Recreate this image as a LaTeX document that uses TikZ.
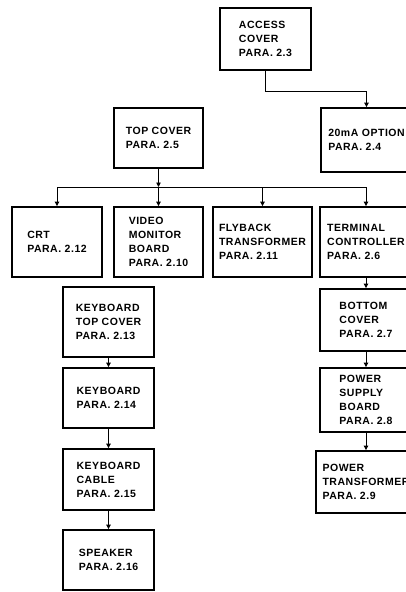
\documentclass[tikz,border=0pt]{standalone}
\usepackage{fontspec}
\setmainfont{Liberation Sans}[LetterSpace=5]
\usepackage{tikz}
\usetikzlibrary{arrows.meta, positioning}

\begin{document}
\begin{tikzpicture}[x=1pt,y=-1pt]
\tikzset{
  bx/.style={rectangle,draw=black,line width=1.8pt,align=left,inner sep=0pt,font=\fontsize{10.5}{14}\selectfont\bfseries},
  ar/.style={-{Triangle[length=4.5pt,width=4.5pt]},line width=0.8pt},
  ln/.style={line width=0.8pt}
}
\path[use as bounding box,clip] (0,0) rectangle (406,592);
\node[bx,minimum width=91pt,minimum height=62pt] (access) at (265.5,39) {ACCESS\\COVER\\PARA. 2.3};
\node[bx,minimum width=91pt,minimum height=64pt] (opt20) at (366.5,140) {20mA OPTION\\PARA. 2.4};
\node[bx,minimum width=89pt,minimum height=60pt] (topcov) at (158.5,138) {TOP COVER\\PARA. 2.5};
\node[bx,minimum width=90pt,minimum height=70pt] (crt) at (57,242) {CRT\\PARA. 2.12};
\node[bx,minimum width=89pt,minimum height=70pt] (vidmon) at (158.5,242) {VIDEO\\MONITOR\\BOARD\\PARA. 2.10};
\node[bx,minimum width=99pt,minimum height=70pt] (flyback) at (262.5,242) {FLYBACK\\TRANSFORMER\\PARA. 2.11};
\node[bx,minimum width=92pt,minimum height=70pt] (termctl) at (366,242) {TERMINAL\\CONTROLLER\\PARA. 2.6};
\node[bx,minimum width=92pt,minimum height=62pt] (botcov) at (366,320) {BOTTOM\\COVER\\PARA. 2.7};
\node[bx,minimum width=92pt,minimum height=64pt] (psboard) at (366,400) {POWER\\SUPPLY\\BOARD\\PARA. 2.8};
\node[bx,minimum width=100pt,minimum height=62pt] (pwrxfmr) at (366,482) {POWER\\TRANSFORMER\\PARA. 2.9};
\node[bx,minimum width=91pt,minimum height=70pt] (kbtop) at (108.5,322) {KEYBOARD\\TOP COVER\\PARA. 2.13};
\node[bx,minimum width=91pt,minimum height=60pt] (kbd) at (108.5,398) {KEYBOARD\\PARA. 2.14};
\node[bx,minimum width=91pt,minimum height=61pt] (kbcable) at (108.5,479.5) {KEYBOARD\\CABLE\\PARA. 2.15};
\node[bx,minimum width=91pt,minimum height=60pt] (speaker) at (108.5,560) {SPEAKER\\PARA. 2.16};
\coordinate (bus) at (0,187);
% access cover to option
\draw[ar] (access.south) -- ++(0,20) -| (opt20.north);
% top cover fan-out
\draw[ar] (topcov.south) -- (topcov.south |- bus);
\draw[ln] (crt.north |- bus) -- (termctl.north |- bus);
\foreach \b in {crt,vidmon,flyback,termctl}
  \draw[ar] (\b.north |- bus) -- (\b.north);
% chains
\draw[ar] (termctl) -- (botcov); \draw[ar] (botcov) -- (psboard); \draw[ar] (psboard) -- (pwrxfmr);
\draw[ar] (kbtop) -- (kbd); \draw[ar] (kbd) -- (kbcable); \draw[ar] (kbcable) -- (speaker);
\end{tikzpicture}
\end{document}
